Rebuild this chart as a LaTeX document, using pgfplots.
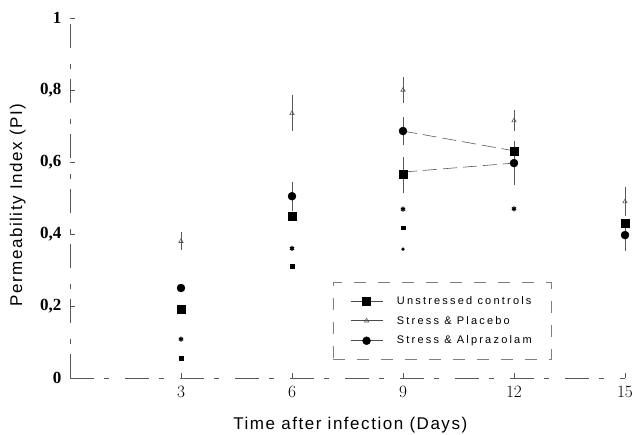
\documentclass[border=0pt]{standalone}
\usepackage{fontspec}
\setmainfont{Liberation Serif}
\newfontfamily\labfont[LetterSpace=9]{Liberation Sans}
\newfontfamily\legfont[LetterSpace=20]{Liberation Sans}
\usepackage{pgfplots}
\pgfplotsset{compat=1.18}
\usetikzlibrary{calc}
\pgfplotstableread{
x y e
3 0.19 0
6 0.45 0
9 0.565 0.05
12 0.631 0
15 0.43 0
}\unstressed
\pgfplotstableread{
x y e
3 0.38 0.025
6 0.735 0.05
9 0.80 0.035
12 0.715 0.03
15 0.49 0.04
}\placebo
\pgfplotstableread{
x y e
3 0.25 0
6 0.505 0.04
9 0.686 0.04
12 0.597 0.06
15 0.397 0.045
}\alpraz
\begin{document}
\begin{tikzpicture}
\begin{axis}[name=ax, scale only axis, width=555pt, height=360pt,
  xmin=0, xmax=15, ymin=0, ymax=1, clip=false,
  axis lines*=left,
  axis line style={gray!70!black, line width=0.7pt, dash pattern=on 24pt off 10pt on 5pt off 16pt},
  xtick={3,6,9,12,15}, ytick={0,0.2,0.4,0.6,0.8,1},
  yticklabels={0,{0,2},{0,4},{0,6},{0,8},1},
  tick style={gray!70!black, line width=0.6pt}, major tick length=5pt, tick align=inside,
  ticklabel style={font=\fontsize{17}{17}\selectfont\bfseries},
  yticklabel style={xshift=-5pt},
  xticklabel style={yshift=-5pt},
  xlabel={\labfont\fontsize{17}{19}\selectfont Time after infection (Days)},
  xlabel style={at={(axis description cs:0.505,0)}, anchor=center, yshift=-47pt},
  ylabel={\labfont\fontsize{17}{19}\selectfont Permeability Index (PI)},
  ylabel style={at={(axis description cs:-0.094,0.48)}, anchor=center},
  legend style={at={(axis description cs:0.474,0.267)}, anchor=north west,
    draw=gray, dash pattern=on 12pt off 12pt, font=\legfont\fontsize{11}{13}\selectfont,
    row sep=6.5pt, inner xsep=17pt, inner ysep=12pt,
    /tikz/every odd column/.append style={column sep=12pt}},
  legend cell align=left,
  legend image code/.code={\draw[gray!60!black, line width=0.6pt, solid] (0pt,0pt) -- (32pt,0pt);
    \draw[#1, solid] plot coordinates {(16pt,0pt)};},
  error bars/error bar style={gray!70!black, line width=0.7pt, solid},
  error bars/error mark=none,
]
\addplot[forget plot, gray!70!black, line width=0.6pt, dash pattern=on 14pt off 6pt] coordinates {(9,0.686) (12,0.631)};
\addplot[forget plot, gray!70!black, line width=0.6pt, dash pattern=on 14pt off 6pt] coordinates {(9,0.572) (12,0.597)};
\addplot[only marks, mark=square*, mark size=4pt, black,
  error bars/.cd, y dir=both, y explicit] table[x=x, y=y, y error=e] {\unstressed};
\addlegendentry{Unstressed controls}
\addplot[only marks, mark=triangle, mark size=2.5pt, gray!70!black, line width=0.6pt,
  error bars/.cd, y dir=both, y explicit] table[x=x, y=y, y error=e] {\placebo};
\addlegendentry{Stress \& Placebo}
\addplot[only marks, mark=*, mark size=4pt, black,
  error bars/.cd, y dir=both, y explicit] table[x=x, y=y, y error=e] {\alpraz};
\addlegendentry{Stress \& Alprazolam}
\addplot[forget plot, only marks, mark=asterisk, mark size=2.5pt, line width=1.2pt, black] coordinates {(3,0.108) (6,0.36) (9,0.469) (12,0.47)};
\addplot[forget plot, only marks, mark=square*, mark size=1.8pt, black] coordinates {(3,0.055) (6,0.31) (9,0.417)};
\addplot[forget plot, only marks, mark=*, mark size=1.5pt, black] coordinates {(9,0.358)};
\end{axis}
\pgfresetboundingbox
\path ($(ax.south west)+(-70pt,-56pt)$) rectangle ($(ax.north east)+(8pt,18pt)$);
\end{tikzpicture}
\end{document}
